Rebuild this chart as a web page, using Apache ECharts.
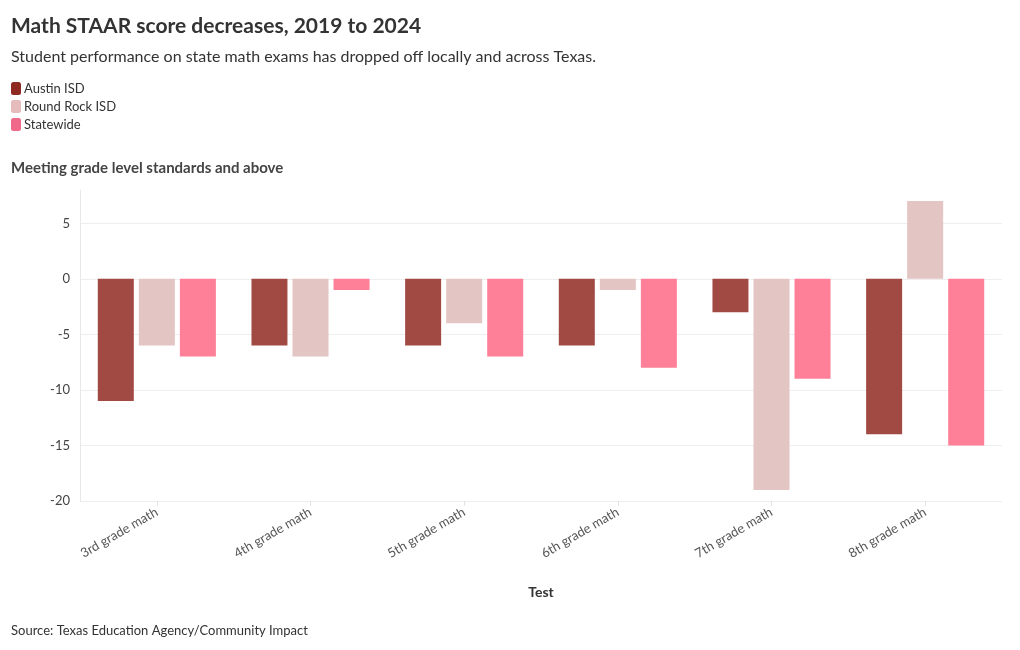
<!DOCTYPE html>
<html><head><meta charset="utf-8">
<script src="https://cdn.jsdelivr.net/npm/echarts@6/dist/echarts.min.js"></script>
<style>html,body{margin:0;padding:0;background:#fff}#c{width:1020px;height:650px}</style>
</head><body><div id="c"></div>
<script>
const categories = ["3rd grade math","4th grade math","5th grade math","6th grade math","7th grade math","8th grade math"];
const austin = [-11,-6,-6,-6,-3,-14];
const roundRock = [-6,-7,-4,-1,-19,7];
const statewide = [-7,-1,-7,-8,-9,-15];
const yTicks = [-20,-15,-10,-5,0,5];

const F = "Lato, 'Noto Sans', sans-serif";
const chart = echarts.init(document.getElementById('c'));
chart.setOption({
  animation:false,
  textStyle:{fontFamily:F},
  title:[
    {text:"Math STAAR score decreases, 2019 to 2024",left:6,top:11,textStyle:{fontFamily:F,fontSize:21,fontWeight:'bold',color:'#333'}},
    {text:"Student performance on state math exams has dropped off locally and across Texas.",left:6,top:44,textStyle:{fontFamily:F,fontSize:16,fontWeight:'normal',color:'#333'}},
    {text:"Meeting grade level standards and above",left:6,top:156,textStyle:{fontFamily:F,fontSize:15,fontWeight:'bold',color:'#444'}},
    {text:"Source: Texas Education Agency/Community Impact",left:6,top:619,textStyle:{fontFamily:F,fontSize:13,fontWeight:'normal',color:'#333'}}
  ],
  legend:{
    orient:'vertical',left:6,top:77,itemWidth:10,itemHeight:13,itemGap:5,
    icon:'roundRect',
    textStyle:{fontFamily:F,fontSize:13,color:'#333',padding:[0,0,0,-2]},
    data:[
      {name:'Austin ISD',itemStyle:{color:'#8e2a22'}},
      {name:'Round Rock ISD',itemStyle:{color:'#e5bcbb'}},
      {name:'Statewide',itemStyle:{color:'#f0698a'}}
    ]
  },
  grid:{left:80,right:18,top:190,bottom:149,containLabel:false},
  xAxis:{
    type:'category',data:categories,
    name:'Test',nameLocation:'middle',nameGap:84,
    nameTextStyle:{fontFamily:F,fontSize:14,fontWeight:'bold',color:'#333'},
    axisLine:{show:false,onZero:false},
    axisTick:{show:true,alignWithLabel:true,length:5,lineStyle:{color:'#e4e4e4'}},
    axisLabel:{rotate:30,fontFamily:F,fontSize:13,color:'#555',margin:10,interval:0},
    splitLine:{show:false}
  },
  yAxis:{
    type:'value',min:-20,max:8,interval:5,
    axisLine:{show:true,lineStyle:{color:'#e8e8e8'}},
    axisTick:{show:false},
    axisLabel:{fontFamily:F,fontSize:13,color:'#444',margin:10,showMaxLabel:false},
    splitLine:{show:true,showMaxLine:false,lineStyle:{color:'#eeeeee'}}
  },
  series:[
    {name:'Austin ISD',type:'bar',data:austin,barWidth:36,barGap:'14%',barCategoryGap:'23%',itemStyle:{color:'#a14a43'}},
    {name:'Round Rock ISD',type:'bar',data:roundRock,barWidth:36,barGap:'14%',itemStyle:{color:'#e3c5c3'}},
    {name:'Statewide',type:'bar',data:statewide,barWidth:36,barGap:'14%',itemStyle:{color:'#fe7f98'}}
  ]
});
</script></body></html>
